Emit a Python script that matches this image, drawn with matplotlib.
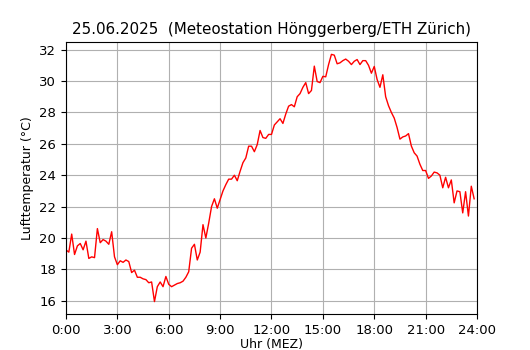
import numpy as np
import matplotlib
matplotlib.use("Agg")
import matplotlib.pyplot as plt

title = "25.06.2025  (Meteostation Hönggerberg/ETH Zürich)"

# 10-minute values, 0:00 .. 23:50
temps = [
    19.24, 19.1, 20.25, 18.95, 19.5, 19.65, 19.25, 19.8, 18.7, 18.8,
    18.75, 20.6, 19.7, 19.9, 19.8, 19.6, 20.4, 18.8, 18.3, 18.55,
    18.45, 18.6, 18.5, 17.8, 17.95, 17.5, 17.5, 17.4, 17.35, 17.15,
    17.2, 15.95, 16.9, 17.2, 16.9, 17.55, 17.05, 16.9, 17.0, 17.1,
    17.15, 17.25, 17.5, 17.85, 19.35, 19.6, 18.6, 19.1, 20.85, 20.0,
    20.95, 22.0, 22.5, 21.9, 22.45, 23.0, 23.4, 23.75, 23.75, 24.0,
    23.65, 24.25, 24.8, 25.1, 25.85, 25.85, 25.5, 25.95, 26.85, 26.4,
    26.35, 26.6, 26.6, 27.2, 27.4, 27.6, 27.3, 27.9, 28.4, 28.5,
    28.36, 29.0, 29.2, 29.6, 29.9, 29.2, 29.4, 30.95, 29.97, 29.9,
    30.3, 30.27, 31.05, 31.7, 31.65, 31.1, 31.16, 31.3, 31.4, 31.26,
    31.05, 31.26, 31.37, 31.05, 31.3, 31.3, 31.0, 30.5, 30.93, 30.1,
    29.6, 30.4, 29.0, 28.43, 28.0, 27.64, 27.04, 26.3, 26.44, 26.5,
    26.65, 25.86, 25.43, 25.22, 24.7, 24.3, 24.3, 23.8, 23.95, 24.2,
    24.15, 24.0, 23.2, 23.87, 23.2, 23.7, 22.24, 23.0, 22.95, 21.6,
    22.95, 21.4, 23.3, 22.5,
]
hours = np.arange(len(temps)) / 6.0

xticks = [0, 3, 6, 9, 12, 15, 18, 21, 24]
xticklabels = ["0:00", "3:00", "6:00", "9:00", "12:00", "15:00", "18:00", "21:00", "24:00"]

fig = plt.figure(figsize=(5.3, 3.5), dpi=100)
ax = fig.add_axes([0.1245, 0.103, 0.7755, 0.777])
ax.plot(hours, temps, color="red", linewidth=1)
ax.set_xlim(0, 24)
ax.set_xticks(xticks)
ax.set_xticklabels(xticklabels, fontsize=9.5)
ax.tick_params(axis="y", labelsize=9.5)
ax.grid(True)
ax.set_title(title, fontsize=10.9)
ax.set_xlabel("Uhr (MEZ)", fontsize=9, labelpad=1)
ax.set_ylabel("Lufttemperatur (°C)", fontsize=9)
fig.savefig("out.png", dpi=100)
